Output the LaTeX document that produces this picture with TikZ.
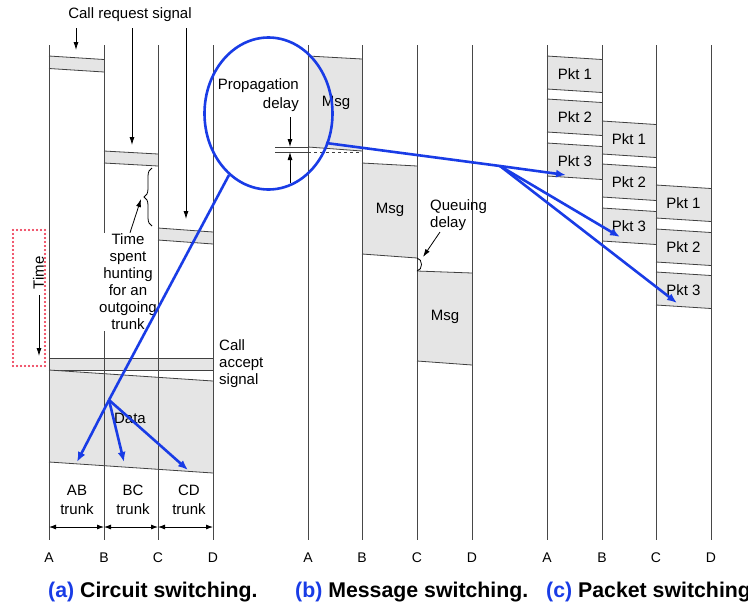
\documentclass[tikz,border=0pt]{standalone}
\usepackage{fontspec}
\setmainfont{Liberation Sans}
\usetikzlibrary{arrows.meta,decorations.pathreplacing}
\definecolor{linkblue}{RGB}{25,60,230}
\definecolor{slabgray}{RGB}{229,229,229}
\definecolor{dotred}{RGB}{235,30,60}
% a shaded transmission interval between two stations:
% #1,#2 = x of the stations, #3,#4 = top edge, #5,#6 = bottom edge
\newcommand\slabpoly[6]{%
  \fill[slabfill] (#1,#3) -- (#2,#4) -- (#2,#6) -- (#1,#5) -- cycle;
  \draw[edge] (#1,#3) -- (#2,#4) (#1,#5) -- (#2,#6);}
\begin{document}
\begin{tikzpicture}[x=1pt,y=-1pt,
  wire/.style={draw=black!72,line width=1pt},
  slabfill/.style={fill=slabgray},
  edge/.style={draw=black!75,line width=0.8pt},
  lbl/.style={font=\fontsize{15}{17}\selectfont,inner sep=0pt},
  axis/.style={font=\fontsize{14}{16}\selectfont,inner sep=0pt},
  captionlbl/.style={font=\fontsize{21.3}{24}\selectfont\bfseries,inner sep=0pt,anchor=base west},
  ptr/.style={-{Latex[length=8pt,width=5pt]},line width=0.8pt},
  zoomln/.style={linkblue,line width=2.6pt},
  zoomarr/.style={zoomln,-{Latex[length=10pt,width=8pt]}},
  dim/.style={{Latex[length=7pt,width=5pt]}-{Latex[length=7pt,width=5pt]},line width=0.8pt}
]
\useasboundingbox (0,0) rectangle (748,606);
\clip (0,0) rectangle (748,606);

% ---------------- (a) circuit switching ----------------
\slabpoly{49}{104}{56}{59.5}{68.5}{72}
\slabpoly{104}{158}{151}{154}{163}{166}
\slabpoly{158}{213}{228}{232}{240}{244}
% call accept signal
\fill[slabfill] (49,358) rectangle (213,370);
\draw[edge] (49,358) -- (213,358) (49,370) -- (213,370);
% data
\slabpoly{49}{213}{370}{381}{462}{473}

\foreach \x/\n in {49/A,104/B,158/C,213/D}{
  \draw[wire] (\x,45) -- (\x,540);
  \node[axis] (ca\n) at (\x,558) {\n};
}

\node[lbl] (req) at (130,15) {Call request signal};
\draw[ptr] (76,28) -- (76,50);
\draw[ptr] (132,28) -- (132,145);
\draw[ptr] (186,28) -- (186,219);

\draw[line width=0.8pt,decorate,decoration={brace,amplitude=8pt}] (152,226) -- (152,168);
\coordinate (bracetip) at (141,199);
\node[lbl,fill=white,align=center,inner xsep=0pt,inner ysep=1pt] (hunt) at (128,282)
  {Time\\spent\\hunting\\for an\\outgoing\\trunk};
\draw[ptr] ([xshift=2pt]hunt.north) -- (bracetip);

\node[lbl,align=left,anchor=west] (accept) at (219,364) {Call\\accept\\signal};
\node[lbl] (data) at (130,418) {Data};

\foreach \x/\t in {77/AB,133/BC,189/CD}
  \node[lbl,align=center,font=\fontsize{15}{19}\selectfont] (tr\t) at (\x,499.5) {\t\\trunk};
\draw[dim] (caA |- 0,527) -- (caB |- 0,527);
\draw[dim] (caB |- 0,527) -- (caC |- 0,527);
\draw[dim] (caC |- 0,527) -- (caD |- 0,527);

% time axis
\draw[dotred,line width=2.4pt,line cap=round,dash pattern=on 0pt off 4pt] (13,230) rectangle (45,366);
\node[lbl,rotate=90] (timelbl) at (38.5,273) {Time};
\draw[ptr] (39,295) -- (39,356);

% ---------------- (b) message switching ----------------
\slabpoly{308}{362}{56}{59}{147}{151}
\slabpoly{362}{417}{163}{166}{254}{258}
\slabpoly{417}{472}{271}{273}{361}{365}
\foreach \x/\n in {308/A,362/B,417/C,472/D}{
  \draw[wire] (\x,45) -- (\x,540);
  \node[axis] (mb\n) at (\x,558) {\n};
}
\node[lbl] (msg1) at (336,103) {Msg};
\node[lbl] (msg2) at (390,210) {Msg};
\node[lbl] (msg3) at (445,317) {Msg};

% propagation delay marks
\draw[edge] (275,147) -- (308,147);
\draw[edge] (275,152) -- (308,152);
\draw[edge,dashed] (308,152) -- (362,152);
\draw[ptr] (290,117) -- (290,147);
\draw[ptr] (290,183) -- (290,152);
\node[lbl,align=right,anchor=east,font=\fontsize{15}{19}\selectfont] (prop) at (299,95) {Propagation\\delay};

% queuing delay
\draw[line width=0.8pt] (417,258) .. controls (423,259) and (423,270) .. (417,271);
\node[lbl,align=left,anchor=west] (queue) at (430,215.5) {Queuing\\delay};
\draw[ptr] (440,232) -- (423,257);

% ---------------- (c) packet switching ----------------
\foreach \t/\n in {56/1,99/2,143/3}{
  \slabpoly{547}{602}{\t}{\t+3.5}{\t+33}{\t+36.5}
  \node[lbl] (pab\n) at (575,\t+18.5) {Pkt \n};
}
\foreach \t/\n in {121/1,164/2,208/3}{
  \slabpoly{602}{656}{\t}{\t+3.5}{\t+33}{\t+36.5}
  \node[lbl] (pbc\n) at (629,\t+18.5) {Pkt \n};
}
\foreach \t/\n in {185/1,229/2,272/3}{
  \slabpoly{656}{711}{\t}{\t+3.5}{\t+33}{\t+36.5}
  \node[lbl] (pcd\n) at (683.5,\t+18.5) {Pkt \n};
}
\foreach \x/\n in {547/A,602/B,656/C,711/D}{
  \draw[wire] (\x,45) -- (\x,540);
  \node[axis] (pc\n) at (\x,558) {\n};
}

% ---------------- blue magnifier ----------------
\draw[zoomln] (268.5,113.5) ellipse [x radius=64, y radius=76];
\coordinate (lensL) at (229,175);
\coordinate (forkA) at (109,400);
\coordinate (lensR) at (326,143);
\coordinate (forkC) at (500,166);
\draw[zoomln] (lensL) -- (forkA);
\draw[zoomarr] (forkA) -- (77,462);
\draw[zoomarr] (forkA) -- (124,462);
\draw[zoomarr] (forkA) -- (188,470);
\draw[zoomln] (lensR) -- (forkC);
\draw[zoomarr] (forkC) -- (566,175);
\draw[zoomarr] (forkC) -- (620,237);
\draw[zoomarr] (forkC) -- (677,303);

% ---------------- captions ----------------
\node[captionlbl] (capa) at (48,597) {\textcolor{linkblue}{(a)} Circuit switching.};
\node[captionlbl] (capb) at (295,597) {\textcolor{linkblue}{(b)} Message switching.};
\node[captionlbl] (capc) at (546,597) {\textcolor{linkblue}{(c)} Packet switching.};
\end{tikzpicture}
\end{document}
